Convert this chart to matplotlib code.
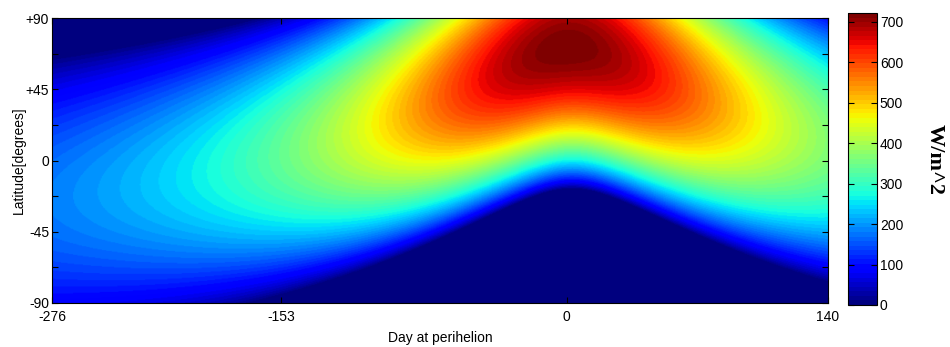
import numpy as np
import matplotlib.pyplot as plt
from matplotlib.ticker import FixedLocator

plt.rcParams['font.family'] = ['Liberation Sans Narrow', 'Liberation Sans', 'DejaVu Sans']

# orbit and spin of the planet
S_PERI = 722.0        # flux at perihelion, W/m^2
ECC = 0.55
PERIOD = 2073.0       # days
OBLIQUITY = 72.0      # degrees
LS_PERI = 88.0        # solar longitude at perihelion, degrees
MU_POWER = 0.85       # exponent on cos(zenith)

DAY_START, DAY_END = -276, 140
DAY_TICKS = [-276, -153, 0, 140]
LAT_TICKS = [90, 45, 0, -45, -90]
LAT_LABELS = ['+90', '+45', '0', '-45', '-90']
LAT_MINOR = [67.5, 22.5, -22.5, -67.5]
CBAR_TICKS = [0, 100, 200, 300, 400, 500, 600, 700]


def orbit(days):
    # mean -> eccentric -> true anomaly, days counted from perihelion
    M = 2 * np.pi * days / PERIOD
    E = M.copy()
    for _ in range(50):
        E = E - (E - ECC * np.sin(E) - M) / (1 - ECC * np.cos(E))
    nu = 2 * np.arctan2(np.sqrt(1 + ECC) * np.sin(E / 2), np.sqrt(1 - ECC) * np.cos(E / 2))
    r = 1 - ECC * np.cos(E)  # in units of a
    flux = S_PERI * ((1 - ECC) / r) ** 2
    dec = np.degrees(np.arcsin(np.sin(np.radians(OBLIQUITY)) * np.sin(nu + np.radians(LS_PERI))))
    return flux, dec


days = np.linspace(DAY_START, DAY_END, 700)
lats = np.linspace(-90, 90, 361)
flux, dec = orbit(days)
# sunlight at local noon
mu = np.cos(np.radians(lats[:, None] - dec[None, :]))
insol = flux[None, :] * np.clip(mu, 0, None) ** MU_POWER

fig = plt.figure(figsize=(9.5, 3.47), dpi=100)
ax = fig.add_axes([52 / 950, 1 - 303 / 347, 776 / 950, 285 / 347])
cax = fig.add_axes([848 / 950, 1 - 305 / 347, 29 / 950, 292 / 347])

im = ax.imshow(insol, origin='lower', aspect='auto', cmap=plt.get_cmap('jet', 64),
               extent=[DAY_START, DAY_END, -90, 90], vmin=0, vmax=S_PERI,
               interpolation='bilinear')

ax.set_xticks(DAY_TICKS)
ax.set_xticklabels([str(d) for d in DAY_TICKS])
ax.set_yticks(LAT_TICKS)
ax.set_yticklabels(LAT_LABELS)
ax.yaxis.set_minor_locator(FixedLocator(LAT_MINOR))
ax.tick_params(direction='in', top=True, right=True, length=4, width=0.8, labelsize=10)
ax.tick_params(which='minor', direction='in', left=True, right=True, length=4, width=0.8)
ax.tick_params(axis='x', pad=5)
ax.tick_params(axis='y', pad=2)
ax.set_xlabel('Day at perihelion', fontsize=10, labelpad=5)
ax.set_ylabel('Latitude[degrees]', fontsize=10, labelpad=0)
for s in ax.spines.values():
    s.set_linewidth(0.8)

cb = fig.colorbar(im, cax=cax, ticks=CBAR_TICKS)
cb.ax.tick_params(direction='in', length=4, width=0.8, labelsize=10, pad=2, left=True)
cb.ax.minorticks_off()
cb.outline.set_linewidth(0.8)
fig.text(935 / 950, 0.54, 'W/m^2', rotation=-90, ha='center', va='center',
         fontsize=16, fontweight='bold', family=['Liberation Serif', 'DejaVu Serif'])

fig.savefig('out.png', dpi=100)
